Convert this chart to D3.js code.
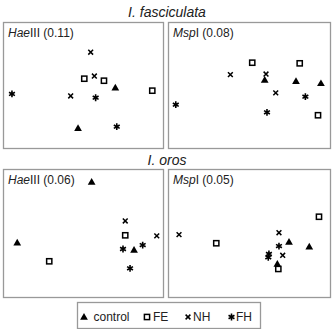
<!DOCTYPE html>
<html>
<head>
<meta charset="utf-8">
<script src="https://cdn.jsdelivr.net/npm/d3@7"></script>
<style>
  body { margin: 0; background: #fff; }
  text { font-family: Arial, "Liberation Sans", sans-serif; fill: #222; }
</style>
</head>
<body>
<div id="chart"></div>
<script>
const groups = ["control", "FE", "NH", "FH"];
const species = ["I. fasciculata", "I. oros"];

// [group, x, y]  (y grows downward, 0..100)
const fascHae = [
  ["control", 46.9, 84.4], ["control", 70.2, 52.1],
  ["FE", 50.8, 45.0], ["FE", 63.1, 46.6], ["FE", 93.3, 54.5],
  ["NH", 54.8, 24.0], ["NH", 57.1, 42.9], ["NH", 42.3, 58.7],
  ["FH", 5.6, 57.1], ["FH", 57.9, 60.1], ["FH", 71.1, 83.1]
];
const fascMsp = [
  ["control", 59.7, 46.0], ["control", 79.0, 47.1], ["control", 94.4, 48.7],
  ["FE", 52.0, 32.3], ["FE", 81.3, 32.8], ["FE", 92.6, 74.0],
  ["NH", 38.5, 41.8], ["NH", 60.5, 41.3], ["NH", 66.5, 56.3],
  ["FH", 4.8, 65.6], ["FH", 84.8, 59.3], ["FH", 61.1, 71.7]
];
const orosHae = [
  ["control", 55.4, 10.2], ["control", 8.9, 57.6], ["control", 81.9, 63.3],
  ["FE", 76.4, 51.8], ["FE", 28.9, 72.1],
  ["NH", 76.4, 40.6], ["NH", 96.1, 52.3],
  ["FH", 75.0, 62.5], ["FH", 87.3, 59.4], ["FH", 79.4, 77.6]
];
const orosMsp = [
  ["control", 74.7, 57.0], ["control", 87.2, 60.7], ["control", 67.5, 74.2],
  ["FE", 93.2, 37.3], ["FE", 29.8, 58.0], ["FE", 68.1, 78.1],
  ["NH", 6.8, 51.3], ["NH", 68.5, 49.8], ["NH", 70.8, 67.4],
  ["FH", 68.5, 60.2], ["FH", 62.3, 66.4], ["FH", 61.9, 69.0]
];

const enzymes = ["Hae", "Msp"];
const enzymeSuffix = ["III", "I"];
const stressValues = [["0.11", "0.08"], ["0.06", "0.05"]];
const panelData = [[fascHae, fascMsp], [orosHae, orosMsp]];

const width = 334, height = 329;

const svg = d3.select("#chart").append("svg")
  .attr("width", width)
  .attr("height", height);

// frame layout
const cols = [{x0: 3, x1: 163}, {x0: 168, x1: 330}];
const rows = [{y0: 22, y1: 148, title: 17}, {y0: 169, y1: 297, title: 165}];

// marker drawing
function drawMarker(g, group) {
  if (group === "control") {
    g.append("path")
      .attr("d", d3.symbol().type(d3.symbolTriangle).size(26)())
      .attr("transform", "translate(0,0.5)")
      .attr("fill", "#000");
  } else if (group === "FE") {
    g.append("rect")
      .attr("x", -2.6).attr("y", -2.6)
      .attr("width", 5.2).attr("height", 5.2)
      .attr("fill", "none").attr("stroke", "#000").attr("stroke-width", 1.5);
  } else if (group === "NH") {
    const r = 2.4;
    g.append("path")
      .attr("d", `M${-r},${-r}L${r},${r}M${-r},${r}L${r},${-r}`)
      .attr("stroke", "#000").attr("stroke-width", 1.5);
  } else {
    const r = 3.4;
    let d = "";
    [90, 30, 150].forEach(a => {
      const t = a * Math.PI / 180;
      d += `M${-r * Math.cos(t)},${-r * Math.sin(t)}L${r * Math.cos(t)},${r * Math.sin(t)}`;
    });
    g.append("path").attr("d", d)
      .attr("stroke", "#000").attr("stroke-width", 1.6);
  }
}

rows.forEach((row, ri) => {
  svg.append("text")
    .attr("x", width / 2)
    .attr("y", row.title)
    .attr("text-anchor", "middle")
    .attr("font-style", "italic")
    .attr("font-size", 14)
    .text(species[ri]);

  cols.forEach((col, ci) => {
    const x = d3.scaleLinear().domain([0, 100]).range([col.x0, col.x1]);
    const y = d3.scaleLinear().domain([0, 100]).range([row.y0, row.y1]);

    svg.append("rect")
      .attr("x", col.x0 + 0.5).attr("y", row.y0 + 0.5)
      .attr("width", col.x1 - col.x0).attr("height", row.y1 - row.y0)
      .attr("fill", "none")
      .attr("stroke", "#999")
      .attr("stroke-width", 1.3);

    const label = svg.append("text")
      .attr("x", col.x0 + 5)
      .attr("y", row.y0 + 15)
      .attr("font-size", 12);
    label.append("tspan").attr("font-style", "italic").text(enzymes[ci]);
    label.append("tspan").text(`${enzymeSuffix[ci]} (${stressValues[ri][ci]})`);

    svg.append("g")
      .selectAll("g")
      .data(panelData[ri][ci])
      .enter()
      .append("g")
      .attr("transform", d => `translate(${x(d[1])},${y(d[2])})`)
      .each(function(d) { drawMarker(d3.select(this), d[0]); });
  });
});

// legend
const legendBox = {x0: 77, x1: 260, y0: 302, y1: 328};
svg.append("rect")
  .attr("x", legendBox.x0 + 0.5).attr("y", legendBox.y0 + 0.5)
  .attr("width", legendBox.x1 - legendBox.x0)
  .attr("height", legendBox.y1 - legendBox.y0)
  .attr("fill", "none").attr("stroke", "#999").attr("stroke-width", 1.3);

const legendMarkerX = [84, 147, 188, 231.5];
const legendTextGap = [9.5, 6, 5, 4.5];

groups.forEach((grp, i) => {
  const lg = svg.append("g")
    .attr("transform", `translate(${legendMarkerX[i]},317)`);
  drawMarker(lg, grp);
  svg.append("text")
    .attr("x", legendMarkerX[i] + legendTextGap[i])
    .attr("y", 321)
    .attr("font-size", 12)
    .text(grp);
});
</script>
</body>
</html>
